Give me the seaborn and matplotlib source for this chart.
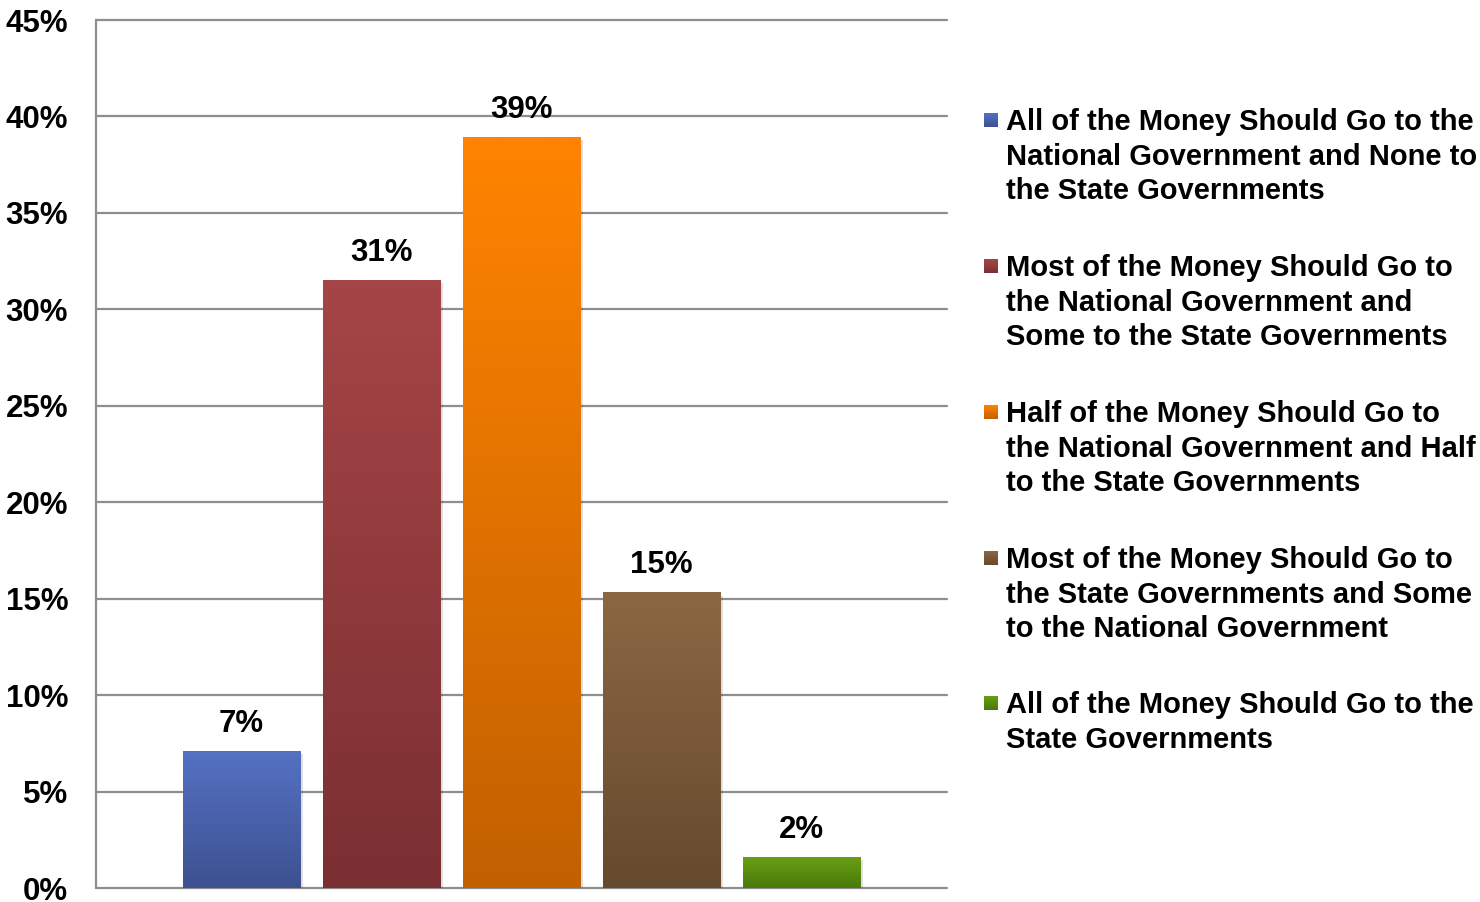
import numpy as np
import pandas as pd
import matplotlib
matplotlib.use("Agg")
import matplotlib.pyplot as plt
import seaborn as sns
from matplotlib import patheffects as pe
from matplotlib.colors import LinearSegmentedColormap

# ---------------- data ----------------
categories = [
    "All of the Money Should Go to the\nNational Government and None to\nthe State Governments",
    "Most of the Money Should Go to\nthe National Government and\nSome to the State Governments",
    "Half of the Money Should Go to\nthe National Government and Half\nto the State Governments",
    "Most of the Money Should Go to\nthe State Governments and Some\nto the National Government",
    "All of the Money Should Go to the\nState Governments",
]
values = [7.1, 31.5, 38.9, 15.3, 1.6]
value_labels = ["7%", "31%", "39%", "15%", "2%"]
top_colors = ["#5471C3", "#A64547", "#FF8400", "#8C6743", "#6A9F13"]
bottom_colors = ["#3D5190", "#7A2F32", "#C26000", "#654A2E", "#4A790C"]
ytick_values = [0, 5, 10, 15, 20, 25, 30, 35, 40, 45]
ytick_labels = [f"{v}%" for v in ytick_values]

# ---------------- style ----------------
sns.set_theme(style="white")
plt.rcParams["font.family"] = ["Liberation Sans", "DejaVu Sans"]
plt.rcParams["font.weight"] = "bold"

W, H = 1480, 902
fig = plt.figure(figsize=(W / 100, H / 100), dpi=100)
fig.patch.set_facecolor("white")
ax = fig.add_axes([96 / W, 14 / H, (947 - 96) / W, 868 / H])

df = pd.DataFrame({"category": categories, "value": values})
mid_colors = [
    tuple((np.array(matplotlib.colors.to_rgb(t)) + np.array(matplotlib.colors.to_rgb(b))) / 2)
    for t, b in zip(top_colors, bottom_colors)
]
sns.barplot(data=df, x="category", y="value", hue="category", palette=mid_colors,
            width=0.836, saturation=1, legend=False, ax=ax, zorder=3)

xlim = (-1.04, 5.04)
ylim = (0, 45)

# gradient fill over each bar
grad = np.linspace(0, 1, 256).reshape(-1, 1)
for i, patch in enumerate(ax.patches):
    x, y = patch.get_x(), patch.get_y()
    w, h = patch.get_width(), patch.get_height()
    cmap = LinearSegmentedColormap.from_list(f"g{i}", [bottom_colors[i], top_colors[i]])
    patch.set_edgecolor("none")
    patch.set_path_effects([pe.SimplePatchShadow(offset=(2, -2), shadow_rgbFace="#000000", alpha=0.12), pe.Normal()])
    ax.imshow(grad, extent=[x, x + w, y, y + h], origin="lower", cmap=cmap,
              aspect="auto", zorder=4, interpolation="bilinear")

ax.set_xlim(*xlim)
ax.set_ylim(*ylim)

# data labels
for cont, lab in zip(ax.containers, value_labels):
    ax.bar_label(cont, labels=[lab], padding=9, fontsize=22.5, fontweight="bold",
                 color="black", zorder=5)

# axes styling
grid_color = "#8E8E8E"
ax.set_yticks(ytick_values)
ax.set_yticklabels(ytick_labels)
ax.set_xticks([])
ax.set_xlabel("")
ax.set_ylabel("")
ax.yaxis.grid(True, color=grid_color, linewidth=1.6)
for gl in ax.get_ygridlines():
    gl.set_clip_on(False)
ax.set_axisbelow(True)
for s in ["top", "right", "bottom"]:
    ax.spines[s].set_visible(False)
ax.spines["left"].set_color(grid_color)
ax.spines["left"].set_linewidth(1.6)
ax.tick_params(axis="y", which="major", direction="out", length=6.5, width=1.6,
               color=grid_color, pad=13.5, labelsize=22.5, labelcolor="black")
for t in ax.get_yticklabels():
    t.set_fontweight("bold")

# legend (manual, handles aligned with first line)
first_line_y = [120, 266, 412, 558, 703]  # pixel centre of first line (from top)
sq = 14
for i, (lab, yy) in enumerate(zip(categories, first_line_y)):
    lax = fig.add_axes([984 / W, 1 - (yy + sq / 2) / H, sq / W, sq / H])
    cmap = LinearSegmentedColormap.from_list(f"l{i}", [bottom_colors[i], top_colors[i]])
    lax.imshow(grad, origin="lower", cmap=cmap, aspect="auto", extent=[0, 1, 0, 1])
    lax.set_axis_off()
    fig.text(1006 / W, 1 - (yy - 12) / H, lab, ha="left", va="top", fontsize=21,
             fontweight="bold", color="black", linespacing=1.3)

fig.savefig("out.png", dpi=100, facecolor="white")
